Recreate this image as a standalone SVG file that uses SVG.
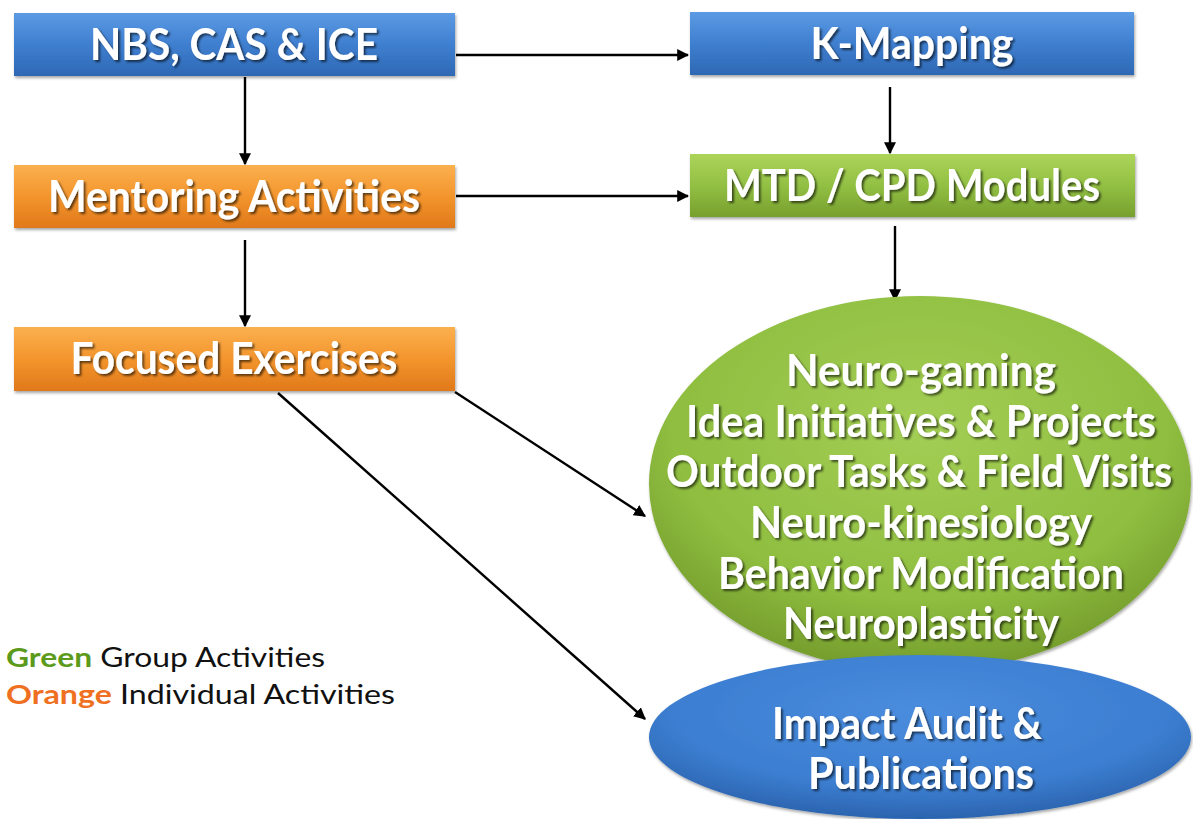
<svg xmlns="http://www.w3.org/2000/svg" width="1193" height="819" viewBox="0 0 1193 819">
  <defs>
    <linearGradient id="gBlue" x1="0" y1="0" x2="0" y2="1">
      <stop offset="0" stop-color="#5C9AE3"/>
      <stop offset="0.5" stop-color="#3F7FD0"/>
      <stop offset="1" stop-color="#2E68B4"/>
    </linearGradient>
    <linearGradient id="gOrange" x1="0" y1="0" x2="0" y2="1">
      <stop offset="0" stop-color="#FBB04F"/>
      <stop offset="0.5" stop-color="#F3952D"/>
      <stop offset="1" stop-color="#E0791A"/>
    </linearGradient>
    <linearGradient id="gGreen" x1="0" y1="0" x2="0" y2="1">
      <stop offset="0" stop-color="#ACD45A"/>
      <stop offset="0.5" stop-color="#92C043"/>
      <stop offset="1" stop-color="#779F2E"/>
    </linearGradient>
    <radialGradient id="rGreen" cx="0.5" cy="0.35" r="0.65">
      <stop offset="0" stop-color="#A3CE55"/>
      <stop offset="0.7" stop-color="#8FBE40"/>
      <stop offset="1" stop-color="#749C2C"/>
    </radialGradient>
    <radialGradient id="rBlue" cx="0.5" cy="0.35" r="0.65">
      <stop offset="0" stop-color="#4A8CDD"/>
      <stop offset="0.7" stop-color="#3C7ED1"/>
      <stop offset="1" stop-color="#2B64AF"/>
    </radialGradient>
    <filter id="boxShadow" x="-3%" y="-10%" width="106%" height="130%">
      <feDropShadow dx="1" dy="2" stdDeviation="1.5" flood-color="#000" flood-opacity="0.35"/>
    </filter>
    <filter id="txtShadow" x="-1%" y="-20%" width="103%" height="150%">
      <feDropShadow dx="2" dy="2" stdDeviation="1.2" flood-color="#000" flood-opacity="0.6"/>
    </filter>
    <marker id="arrow" viewBox="0 0 10 10" refX="9" refY="5" markerWidth="5" markerHeight="5" orient="auto" markerUnits="strokeWidth">
      <path d="M0,0 L10,5 L0,10 z" fill="#000"/>
    </marker>
  </defs>
  <style>
    .lbl { font-family: "Lato", "Open Sans", "Liberation Sans", sans-serif; font-weight: bold; font-size: 44px; fill: #fff; text-anchor: middle; filter: url(#txtShadow); }
    .box { stroke: none; filter: url(#boxShadow); }
    .conn { stroke: #000; stroke-width: 2.4; fill: none; marker-end: url(#arrow); }
    .leg { font-family: "Lato", "Open Sans", "Liberation Sans", sans-serif; font-size: 27px; fill: #111; }
  </style>

  <rect width="1193" height="819" fill="#fff"/>

  <!-- connectors -->
  <g id="connectors">
    <line class="conn" x1="245" y1="77" x2="245" y2="164"/>
    <line class="conn" x1="245" y1="240" x2="245" y2="326"/>
    <line class="conn" x1="456" y1="55" x2="688" y2="55"/>
    <line class="conn" x1="456" y1="196" x2="688" y2="196"/>
    <line class="conn" x1="890" y1="87" x2="890" y2="153"/>
    <line class="conn" x1="895" y1="226" x2="895" y2="300"/>
    <line class="conn" x1="455" y1="392" x2="645" y2="516"/>
    <line class="conn" x1="278" y1="393" x2="645" y2="719"/>
  </g>

  <g id="nbs">
    <rect class="box" x="14" y="13" width="441" height="63" fill="url(#gBlue)"/>
    <text class="lbl" x="234" y="60" textLength="288" lengthAdjust="spacingAndGlyphs">NBS, CAS &amp; ICE</text>
  </g>
  <g id="mentoring">
    <rect class="box" x="14" y="165" width="441" height="63" fill="url(#gOrange)"/>
    <text class="lbl" x="234" y="212" textLength="372" lengthAdjust="spacingAndGlyphs">Mentoring Activities</text>
  </g>
  <g id="focused">
    <rect class="box" x="14" y="327" width="441" height="64" fill="url(#gOrange)"/>
    <text class="lbl" x="234" y="374" textLength="327" lengthAdjust="spacingAndGlyphs">Focused Exercises</text>
  </g>
  <g id="kmapping">
    <rect class="box" x="690" y="12" width="444" height="63" fill="url(#gBlue)"/>
    <text class="lbl" x="912" y="59" textLength="203" lengthAdjust="spacingAndGlyphs">K-Mapping</text>
  </g>
  <g id="modules">
    <rect class="box" x="690" y="154" width="445" height="63" fill="url(#gGreen)"/>
    <text class="lbl" x="912" y="201" textLength="376" lengthAdjust="spacingAndGlyphs">MTD / CPD Modules</text>
  </g>

  <g id="activities">
    <ellipse class="box" cx="920" cy="484" rx="271" ry="188" fill="url(#rGreen)"/>
    <text class="lbl" x="921" y="386" textLength="270" lengthAdjust="spacingAndGlyphs">Neuro-gaming</text>
    <text class="lbl" x="921" y="437" textLength="470" lengthAdjust="spacingAndGlyphs">Idea Initiatives &amp; Projects</text>
    <text class="lbl" x="919" y="487" font-size="40" textLength="506" lengthAdjust="spacingAndGlyphs">Outdoor Tasks &amp; Field Visits</text>
    <text class="lbl" x="921" y="538" textLength="342" lengthAdjust="spacingAndGlyphs">Neuro-kinesiology</text>
    <text class="lbl" x="921" y="589" textLength="406" lengthAdjust="spacingAndGlyphs">Behavior Modification</text>
    <text class="lbl" x="921" y="639" textLength="276" lengthAdjust="spacingAndGlyphs">Neuroplasticity</text>
  </g>

  <g id="impact">
    <ellipse class="box" cx="920" cy="737" rx="271" ry="82" fill="url(#rBlue)"/>
    <text class="lbl" x="907" y="739" textLength="270" lengthAdjust="spacingAndGlyphs">Impact Audit &amp;</text>
    <text class="lbl" x="921" y="789" textLength="226" lengthAdjust="spacingAndGlyphs">Publications</text>
  </g>

  <g id="legend">
    <text class="leg" x="6" y="667" textLength="319" lengthAdjust="spacingAndGlyphs"><tspan font-weight="bold" fill="#5C9A1B">Green</tspan> Group Activities</text>
    <text class="leg" x="6" y="704" textLength="389" lengthAdjust="spacingAndGlyphs"><tspan font-weight="bold" fill="#F07022">Orange</tspan> Individual Activities</text>
  </g>
</svg>
